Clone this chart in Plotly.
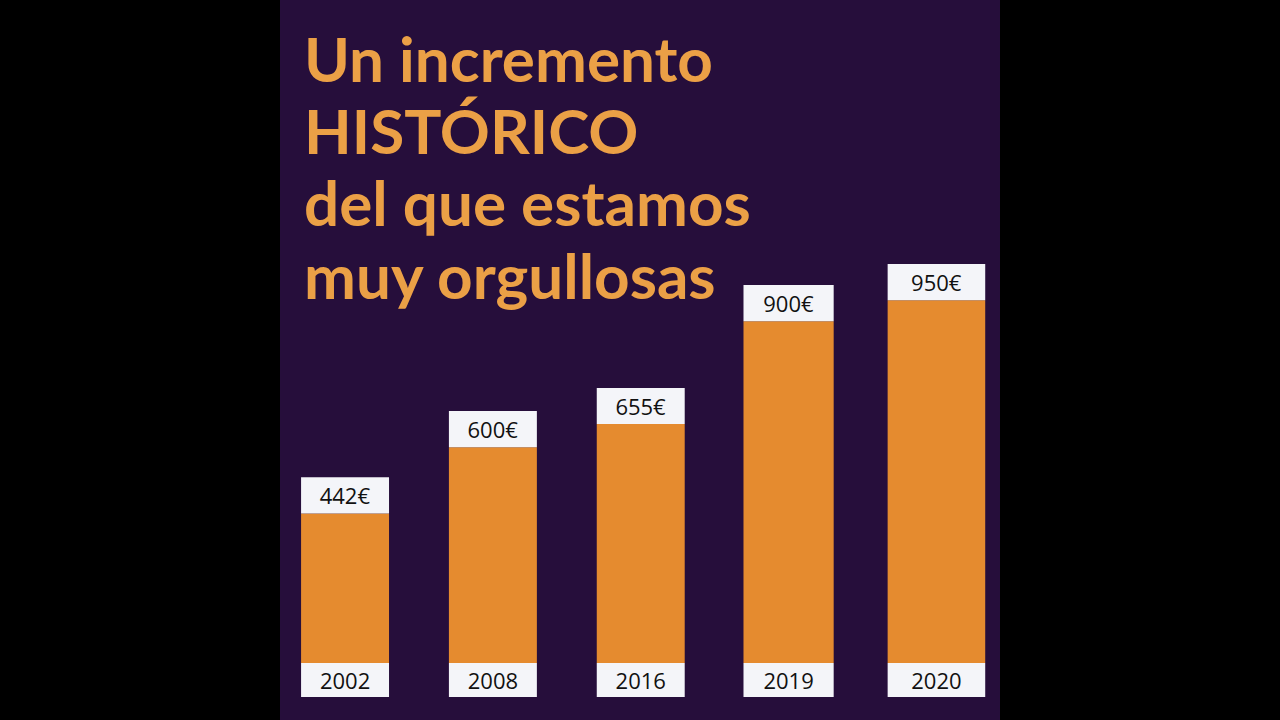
import plotly.graph_objects as go

# Data
years = ["2002", "2008", "2016", "2019", "2020"]
amounts = [442, 600, 655, 900, 950]
amount_labels = ["442€", "600€", "655€", "900€", "950€"]
title_lines = ["Un incremento", "HISTÓRICO", "del que estamos", "muy orgullosas"]

PURPLE = "#260e3b"
ORANGE = "#e58b2f"
WHITE = "#f4f5f9"
TITLE_ORANGE = "#eba046"

# label boxes keep a fixed height (in axis units, i.e. euros)
low_box = 81
top_box = 86
widths = [0.595, 0.595, 0.595, 0.61, 0.66]
label_font = dict(family="Open Sans", size=22, color="#111111")

fig = go.Figure()

# year boxes hang below the zero line
fig.add_trace(go.Bar(
    x=years, y=[low_box] * len(years), base=[-low_box] * len(years),
    width=widths, marker=dict(color=WHITE, line=dict(width=0)),
    text=years, textposition="inside", insidetextanchor="middle",
    constraintext="none", textfont=label_font, hoverinfo="skip",
))
fig.add_trace(go.Bar(
    x=years, y=[a - top_box for a in amounts], base=[0] * len(years),
    width=widths, marker=dict(color=ORANGE, line=dict(width=0)),
    hoverinfo="skip",
))
fig.add_trace(go.Bar(
    x=years, y=[top_box] * len(years), base=[a - top_box for a in amounts],
    width=widths, marker=dict(color=WHITE, line=dict(width=0)),
    text=amount_labels, textposition="inside", insidetextanchor="middle",
    constraintext="none", textfont=label_font, hoverinfo="skip",
))

line_y = [0.919, 0.819, 0.719, 0.618]
for line, yy in zip(title_lines, line_y):
    fig.add_annotation(
        text="<b>%s</b>" % line, xref="paper", yref="paper",
        x=0.03, y=yy, xanchor="left", yanchor="middle", showarrow=False,
        font=dict(family="Lato", size=62, color=TITLE_ORANGE),
    )

fig.update_layout(
    width=1280, height=720,
    barmode="overlay", showlegend=False,
    paper_bgcolor="black", plot_bgcolor=PURPLE,
    margin=dict(l=280, r=280, t=0, b=0),
    xaxis=dict(range=[-0.44, 4.43], showticklabels=False, showgrid=False,
               zeroline=False, fixedrange=True),
    yaxis=dict(range=[-135.7, 1578.6], showticklabels=False, showgrid=False,
               zeroline=False, fixedrange=True),
)

fig.write_html("out.html", config={"displayModeBar": False},
               post_script="document.body.style.margin='0';")
